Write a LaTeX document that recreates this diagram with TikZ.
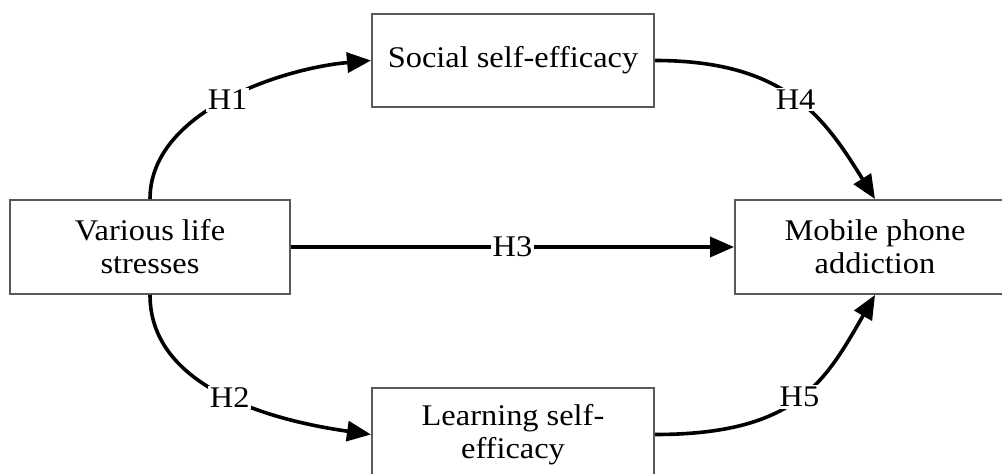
\documentclass[tikz,border=0pt]{standalone}
\usepackage{fontspec}
\setmainfont{Liberation Serif}[FakeStretch=1.08]
\usetikzlibrary{arrows.meta}
\tikzset{
  box/.style={draw=black!65, line width=2pt, minimum width=282pt, minimum height=93pt, inner sep=0pt, align=center, font=\fontsize{30}{33}\selectfont},
  arr/.style={line width=3.6pt, -{Triangle[length=24pt,width=20pt]}},
  lab/.style={fill=white, inner sep=2pt, font=\fontsize{30}{33}\selectfont}
}
\begin{document}
\begin{tikzpicture}[x=1pt,y=1pt]
\useasboundingbox (0,0) rectangle (1002,474);
\begin{scope}
\clip (0,0) rectangle (1002,474);
\node[box] (soc) at (513,413.5) {Social self-efficacy};
\node[box, minimum width=280pt, minimum height=94pt] (var) at (150,227) {Various life\\stresses};
\node[box, minimum width=280pt, minimum height=94pt] (mob) at (875,227) {Mobile phone\\addiction};
\node[box] (lrn) at (513,39.5) {Learning self-\\efficacy};
\draw[arr] (var.north) to[out=90,in=185,out distance=88pt,in distance=88pt] node[lab, pos=0.5] {H1} (soc.west);
\draw[arr] (soc.east) to[out=0,in=122,out distance=132pt,in distance=95pt] node[lab, pos=0.5] {H4} (mob.north);
\draw[arr] (var.east) -- node[lab, pos=0.5] {H3} (mob.west);
\draw[arr] (var.south) to[out=-90,in=172,out distance=99pt,in distance=83pt] node[lab, pos=0.5] {H2} (lrn.west);
\draw[arr] (lrn.east) to[out=0,in=-120,out distance=142pt,in distance=100pt] node[lab, pos=0.5] {H5} (mob.south);
\end{scope}
\end{tikzpicture}
\end{document}
